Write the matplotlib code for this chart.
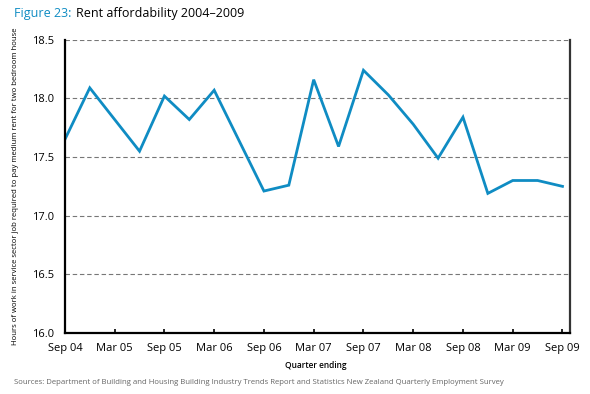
import numpy as np
import matplotlib.pyplot as plt

# quarters Sep 04 .. Sep 09
quarters = ["Sep 04", "Dec 04", "Mar 05", "Jun 05", "Sep 05", "Dec 05", "Mar 06", "Jun 06",
            "Sep 06", "Dec 06", "Mar 07", "Jun 07", "Sep 07", "Dec 07", "Mar 08", "Jun 08",
            "Sep 08", "Dec 08", "Mar 09", "Jun 09", "Sep 09"]
hours = [17.65, 18.09, 17.82, 17.55, 18.02, 17.82, 18.07, 17.64, 17.21, 17.26, 18.16,
         17.59, 18.24, 18.03, 17.78, 17.49, 17.84, 17.19, 17.30, 17.30, 17.25]
yticks = [16.0, 16.5, 17.0, 17.5, 18.0, 18.5]

blue = "#0f8cc3"
plt.rcParams['font.family'] = ['Open Sans', 'DejaVu Sans']

fig = plt.figure(figsize=(5.9, 3.94), dpi=100)
ax = fig.add_axes([0.110, 0.155, 0.856, 0.744])

x = np.arange(len(quarters))
ax.plot(x, hours, color=blue, lw=2.0, solid_joinstyle='miter')

ax.set_xlim(0, 20.3)
ax.set_ylim(16.0, 18.5)
ax.set_yticks(yticks)
ax.set_yticklabels(["%.1f" % v for v in yticks], fontsize=8)
ax.set_xticks(x[::2])
ax.set_xticklabels(quarters[::2], fontsize=8)
ax.tick_params(axis='x', direction='in', length=3, width=1.2, pad=7)
ax.tick_params(axis='y', length=0, pad=8)

for v in yticks[1:]:
    ax.axhline(v, color='#777777', lw=0.8, ls=(0, (4, 2.5)), zorder=0)

ax.spines['top'].set_visible(False)
ax.spines['left'].set_linewidth(1.6)
ax.spines['bottom'].set_linewidth(1.6)
ax.spines['right'].set_linewidth(1.6)
ax.spines['right'].set_color('#333333')

ax.set_ylabel("Hours of work in service sector job required to pay medium rent for two bedroom house",
              fontsize=5.6, labelpad=9)
fig.text(0.536, 0.073, "Quarter ending", fontsize=6, ha='center', va='center', weight='semibold')

t1 = fig.text(0.024, 0.958, "Figure 23:", fontsize=9, color=blue, ha='left', va='baseline')
fig.text(0.024, 0.958, "", fontsize=9)
ax.annotate("Rent affordability 2004\u20132009", xy=(1, 0), xycoords=t1,
            xytext=(3, 0), textcoords='offset points', fontsize=9, color='black',
            ha='left', va='bottom', annotation_clip=False)
fig.text(0.024, 0.030,
         "Sources: Department of Building and Housing Building Industry Trends Report and Statistics New Zealand Quarterly Employment Survey",
         fontsize=5.6, color='#666666', ha='left', va='center')

fig.savefig("out.png", dpi=100)
